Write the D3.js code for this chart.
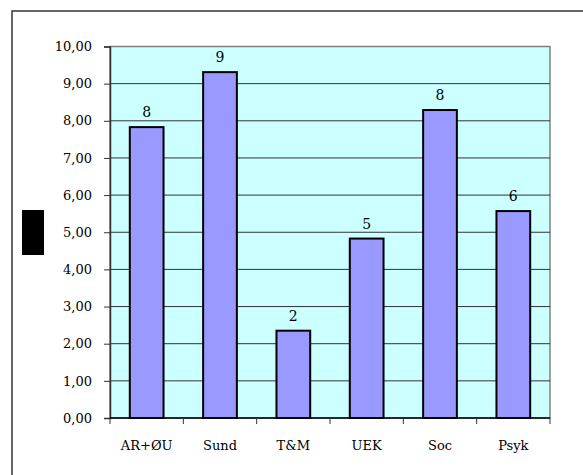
<!DOCTYPE html>
<html>
<head>
<meta charset="utf-8">
<script src="https://cdn.jsdelivr.net/npm/d3@7"></script>
<style>
  body { margin: 0; background: #fff; }
</style>
</head>
<body>
<div class="chart"></div>
<script>
// Data
const categories = ['AR+ØU', 'Sund', 'T&M', 'UEK', 'Soc', 'Psyk'];
const values = [7.83, 9.31, 2.35, 4.83, 8.29, 5.57];
const labels = ['8', '9', '2', '5', '8', '6'];
const yTicks = [0, 1, 2, 3, 4, 5, 6, 7, 8, 9, 10];

const W = 583, H = 475;
const plot = { left: 110, right: 550, top: 46.5, bottom: 418 };
const FONT = '"DejaVu Serif", serif';

const svg = d3.select('.chart').append('svg')
    .attr('width', W)
    .attr('height', H)
    .style('font-family', FONT);

// outer chart frame (only top + left visible in the picture)
svg.append('rect')
    .attr('x', 12).attr('y', 11)
    .attr('width', 600).attr('height', 500)
    .attr('fill', '#fff')
    .attr('stroke', '#333').attr('stroke-width', 1.5);

const x = d3.scaleBand()
    .domain(categories)
    .range([plot.left, plot.right])
    .paddingInner(0.54)
    .paddingOuter(0.27);

const y = d3.scaleLinear()
    .domain([0, 10])
    .range([plot.bottom, plot.top]);

// plot background
svg.append('rect')
    .attr('x', plot.left).attr('y', plot.top)
    .attr('width', plot.right - plot.left)
    .attr('height', plot.bottom - plot.top)
    .attr('fill', '#ccffff')
    .attr('stroke', '#808080').attr('stroke-width', 1.5);

// gridlines
svg.append('g')
    .selectAll('line')
    .data(yTicks.slice(1, -1))
    .join('line')
    .attr('x1', plot.left).attr('x2', plot.right)
    .attr('y1', d => y(d)).attr('y2', d => y(d))
    .attr('stroke', '#333').attr('stroke-width', 1);

// y axis
const yAxis = svg.append('g')
    .attr('transform', `translate(${plot.left},0)`)
    .call(d3.axisLeft(y)
        .tickValues(yTicks)
        .tickSize(6)
        .tickPadding(12)
        .tickFormat(d => d3.format('.2f')(d).replace('.', ',')));
yAxis.attr('font-family', null).attr('font-size', null);
yAxis.select('.domain').attr('stroke', '#333').attr('stroke-width', 1.5);
yAxis.selectAll('.tick line').attr('stroke', '#333');
yAxis.selectAll('text')
    .attr('fill', '#000')
    .style('font-family', FONT)
    .style('font-size', '13px');

// bars
svg.append('g')
    .selectAll('rect')
    .data(values)
    .join('rect')
    .attr('x', (d, i) => x(categories[i]))
    .attr('y', d => y(d))
    .attr('width', x.bandwidth())
    .attr('height', d => y(0) - y(d))
    .attr('fill', '#9999ff')
    .attr('stroke', '#000').attr('stroke-width', 2);

// value labels
svg.append('g')
    .selectAll('text')
    .data(values)
    .join('text')
    .attr('x', (d, i) => x(categories[i]) + x.bandwidth() / 2)
    .attr('y', d => y(d) - 10)
    .attr('text-anchor', 'middle')
    .style('font-family', FONT)
    .style('font-size', '14px')
    .text((d, i) => labels[i]);

// x axis
const step = x.step();
const xTickPos = d3.range(categories.length + 1).map(i => plot.left + i * step);
svg.append('line')
    .attr('x1', plot.left).attr('x2', plot.right)
    .attr('y1', plot.bottom).attr('y2', plot.bottom)
    .attr('stroke', '#000').attr('stroke-width', 1.5);
svg.append('g')
    .selectAll('line')
    .data(xTickPos)
    .join('line')
    .attr('x1', d => d).attr('x2', d => d)
    .attr('y1', plot.bottom).attr('y2', plot.bottom + 6)
    .attr('stroke', '#333');
svg.append('g')
    .selectAll('text')
    .data(categories)
    .join('text')
    .attr('x', d => x(d) + x.bandwidth() / 2)
    .attr('y', 450)
    .attr('text-anchor', 'middle')
    .style('font-family', FONT)
    .style('font-size', '13px')
    .text(d => d);

// axis title block (renders as a solid block in the source)
svg.append('rect')
    .attr('x', 22).attr('y', 210)
    .attr('width', 22).attr('height', 45)
    .attr('fill', '#000');
</script>
</body>
</html>
